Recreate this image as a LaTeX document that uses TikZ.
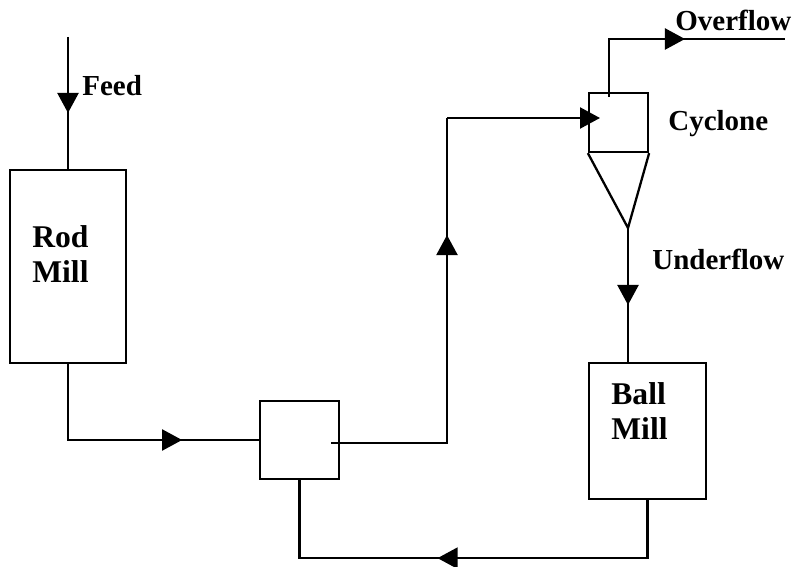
\documentclass[tikz,border=0pt]{standalone}
\usepackage{fontspec}
\setmainfont{Liberation Serif}
\usetikzlibrary{arrows.meta,decorations.markings}

\tikzset{
	unit/.style={draw, line width=1.3pt, inner sep=0pt},
	lbl/.style={font=\bfseries\fontsize{16.5}{19.8}\selectfont, inner sep=0pt},
	unitlbl/.style={lbl, font=\bfseries\fontsize{18}{20.4}\selectfont, anchor=base west, align=left},
	pipe/.style={line width=1.3pt},
	flow/.style={pipe, postaction={decorate}, decoration={markings,
		mark=at position #1 with {\arrow{Triangle[length=0.4cm, width=0.42cm]}}}}
}

\begin{document}
\begin{tikzpicture}[x=0.02cm, y=-0.02cm]
				\fill[white] (0,0) rectangle (795,567);
				\useasboundingbox (0,0) rectangle (795,567);
				
				% units
				\node[unit, minimum width=2.32cm, minimum height=3.86cm] (rod) at (68,266.5) {};
				\node[unit, minimum width=1.58cm, minimum height=1.56cm] (sump) at (299.5,440) {};
				\node[unit, minimum width=1.18cm, minimum height=1.18cm] (cyc) at (618.5,122.5) {};
				\node[unit, minimum width=2.34cm, minimum height=2.72cm] (ball) at (647.5,431) {};
				\coordinate (apex) at (628,228);
				\draw[pipe] (cyc.south west) -- (apex) -- (cyc.south east);
				
				% labels
				\node[lbl, anchor=base west] (feedlbl) at (82,96) {Feed};
				\node[unitlbl] (rodlbl) at (32,283) {Rod\\Mill};
				\node[unitlbl] (balllbl) at (611,440) {Ball\\Mill};
				\node[lbl, anchor=base west] (ovflbl) at (675,31) {Overflow};
				\node[lbl, anchor=base west] (cyclbl) at (668,131) {Cyclone};
				\node[lbl, anchor=base west] (unflbl) at (652,270) {Underflow};
				
				% stream ends
				\coordinate (feedin) at (68,37);
				\coordinate (sumpout) at (331,443);
				\coordinate (riser) at (447,118);
				\coordinate (cycin) at (600,118);
				\coordinate (ovfout) at (609,97);
				\coordinate (ovfend) at (785,39);
				
				% streams
				\draw[flow=1.52cm] (feedin) -- (rod.north);
				\draw[flow=3.8cm] (rod.south) |- (sump.west);
				\draw[flow=6.48cm] (sumpout) -| (riser);
				\draw[pipe, -{Triangle[length=0.4cm, width=0.42cm]}] (riser) -- (cycin);
				\draw[flow=2.68cm] (ovfout) |- (ovfend);
				\draw[flow=1.54cm] (apex) -- (apex |- ball.north);
				\draw[flow=5.36cm] (ball.south) -- ++(0,58) -| (sump.south);
\end{tikzpicture}
\end{document}
